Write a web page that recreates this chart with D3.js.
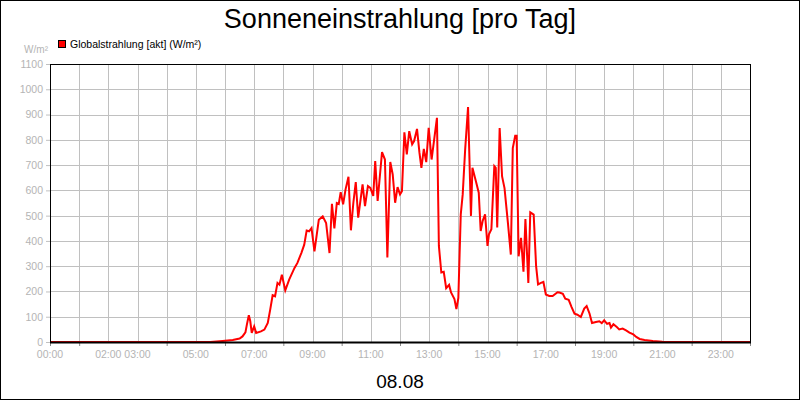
<!DOCTYPE html>
<html>
<head>
<meta charset="utf-8">
<script src="https://cdn.jsdelivr.net/npm/d3@7.9.0/dist/d3.min.js"></script>
<style>
  html, body { margin: 0; padding: 0; background: #fff; }
  svg { display: block; font-family: "Liberation Sans", Arial, sans-serif; }
</style>
</head>
<body>
<svg id="chart" width="800" height="400"></svg>
<script>
// time of day (HH:MM) and global radiation in W/m²
const times = [
  '00:00','05:30','05:55','06:16','06:30','06:36','06:42','06:45','06:49','06:52',
  '06:55','07:00','07:04','07:14','07:21','07:28','07:33','07:38','07:43','07:48',
  '07:52','07:57','08:04','08:12','08:23','08:29','08:37','08:43','08:48','08:53',
  '08:58','09:04','09:13','09:21','09:28','09:35','09:40','09:45','09:50','09:54',
  '09:58','10:03','10:08','10:14','10:19','10:24','10:29','10:34','10:43','10:48',
  '10:54','10:59','11:05','11:09','11:14','11:23','11:29','11:34','11:40','11:45',
  '11:50','11:55','12:00','12:04','12:09','12:14','12:19','12:25','12:29','12:35',
  '12:40','12:44','12:49','12:54','12:59','13:05','13:16','13:20','13:25','13:30',
  '13:35','13:41','13:45','13:52','13:56','14:00','14:05','14:09','14:14','14:20',
  '14:26','14:29','14:36','14:42','14:46','14:50','14:55','15:00','15:03',
  '15:08','15:14','15:17','15:20','15:25','15:30','15:35','15:42','15:48','15:52',
  '15:57','16:00','16:04','16:09','16:14','16:18','16:24','16:28','16:35','16:40',
  '16:44','16:50','16:55','17:00','17:07','17:14','17:24','17:28','17:35','17:40',
  '17:47','17:53','17:59','18:05','18:12','18:19','18:24','18:30','18:35','18:43',
  '18:50','18:55','19:00','19:06','19:11','19:14','19:19','19:26','19:31','19:38',
  '19:45','19:52','20:00','20:06','20:13','20:23','20:40','21:00','21:20','24:00'
];
const radiation = [
  0, 0, 4, 8, 14, 22, 38, 69, 106, 82,
  36, 62, 36, 42, 49, 75, 128, 185, 181, 234,
  227, 266, 204, 247, 293, 313, 352, 385, 441, 438,
  451, 359, 484, 497, 471, 352, 547, 449, 550, 546,
  593, 545, 604, 654, 442, 550, 633, 492, 624, 538,
  617, 610, 578, 716, 558, 751, 722, 334, 712, 663,
  551, 613, 584, 597, 830, 742, 834, 782, 795, 843,
  749, 689, 764, 712, 847, 722, 887, 380, 275, 278,
  213, 226, 196, 170, 130, 174, 505, 584, 760, 930,
  499, 689, 637, 591, 439, 479, 505, 380, 426,
  446, 696, 689, 453, 847, 655, 609, 471, 346, 767,
  816, 816, 339, 412, 278, 487, 234, 513, 504, 300,
  228, 234, 238, 188, 182, 182, 197, 196, 191, 171,
  167, 138, 112, 108, 99, 132, 142, 112, 75, 79,
  82, 75, 86, 72, 75, 57, 70, 59, 50, 53,
  46, 37, 30, 20, 12, 8, 4, 1, 0, 0
];

const yTicks      = d3.range(0, 1101, 100);
const gridHours   = d3.range(1, 24);
const tickHours   = [0, 1, 4, 6, 8, 10, 12, 14, 16, 18, 20, 22, 24];
const labelHours  = [0, 2, 3, 5, 7, 9, 11, 13, 15, 17, 19, 21, 23];
const titleText   = 'Sonneneinstrahlung [pro Tag]';
const dateText    = '08.08';
const unitText    = 'W/m²';
const seriesName  = 'Globalstrahlung [akt] (W/m²)';

const W = 800, H = 400;
const plot = { left: 50, right: 750, top: 64, bottom: 342 };
const GRID = '#c0c0c0';
const LABEL = '#b4b4b4';

const toMin = t => { const [h, m] = t.split(':').map(Number); return h * 60 + m; };
const data = times.map((t, i) => ({ t: toMin(t), v: radiation[i] }));

const svg = d3.select('#chart');

const x = d3.scaleLinear().domain([0, 1440]).range([plot.left, plot.right]);
const y = d3.scaleLinear().domain([0, 1100]).range([plot.bottom, plot.top]);

svg.append('rect')
  .attr('x', 0.5).attr('y', 0.5).attr('width', W - 1).attr('height', H - 1)
  .attr('fill', '#fff').attr('stroke', '#000');

// grid
svg.append('g')
  .selectAll('line')
  .data(yTicks.slice(1, -1))
  .join('line')
    .attr('x1', plot.left).attr('x2', plot.right)
    .attr('y1', d => Math.round(y(d)) + 0.5).attr('y2', d => Math.round(y(d)) + 0.5)
    .attr('stroke', GRID);

svg.append('g')
  .selectAll('line')
  .data(gridHours)
  .join('line')
    .attr('x1', d => Math.round(x(d * 60)) + 0.5).attr('x2', d => Math.round(x(d * 60)) + 0.5)
    .attr('y1', plot.top).attr('y2', plot.bottom)
    .attr('stroke', GRID);

// y axis
const yAxis = svg.append('g')
  .attr('transform', `translate(${plot.left},0)`)
  .call(d3.axisLeft(y).tickValues(yTicks).tickFormat(d3.format('d')).tickSize(4).tickPadding(3));
yAxis.select('.domain').remove();
yAxis.selectAll('.tick line').attr('stroke', GRID);
yAxis.selectAll('.tick text')
  .attr('fill', LABEL)
  .style('font-family', '"Liberation Sans", Arial, sans-serif')
  .style('font-size', '10.5px');

// x axis: tick marks and labels sit on different hours in the original
const xAxis = svg.append('g')
  .attr('transform', `translate(0,${plot.bottom})`)
  .call(d3.axisBottom(x).tickValues(tickHours.map(h => h * 60)).tickSize(4).tickFormat(''));
xAxis.select('.domain').remove();
xAxis.selectAll('.tick line').attr('stroke', '#888');

svg.append('g')
  .selectAll('text')
  .data(labelHours)
  .join('text')
    .attr('x', d => x(d * 60))
    .attr('y', plot.bottom + 16)
    .attr('text-anchor', 'middle')
    .attr('fill', LABEL)
    .style('font-size', '10.5px')
    .text(d => d3.format('02')(d) + ':00');

// series
svg.append('path')
  .datum(data)
  .attr('fill', 'none')
  .attr('stroke', '#ff0000')
  .attr('stroke-width', 2)
  .attr('stroke-linejoin', 'miter')
  .attr('d', d3.line().x(d => x(d.t)).y(d => y(d.v)));

// frame
svg.append('rect')
  .attr('x', plot.left + 0.5).attr('y', plot.top + 0.5)
  .attr('width', plot.right - plot.left).attr('height', plot.bottom - plot.top)
  .attr('fill', 'none').attr('stroke', '#000');
svg.append('line')
  .attr('x1', plot.left).attr('x2', plot.right + 1)
  .attr('y1', plot.bottom + 0.5).attr('y2', plot.bottom + 0.5)
  .attr('stroke', '#000').attr('stroke-width', 2);

// texts
svg.append('text')
  .attr('x', W / 2).attr('y', 28)
  .attr('text-anchor', 'middle')
  .style('font-size', '27px')
  .text(titleText);

svg.append('text')
  .attr('x', W / 2).attr('y', 388)
  .attr('text-anchor', 'middle')
  .style('font-size', '19px')
  .text(dateText);

svg.append('text')
  .attr('x', 48).attr('y', 53)
  .attr('text-anchor', 'end')
  .attr('fill', LABEL)
  .style('font-size', '10px')
  .text(unitText);

const legend = svg.append('g').attr('transform', 'translate(58,40)');
legend.append('rect')
  .attr('x', 0.5).attr('y', 0.5).attr('width', 7).attr('height', 7)
  .attr('fill', '#ff0000').attr('stroke', '#000');
legend.append('text')
  .attr('x', 12).attr('y', 8)
  .style('font-size', '10.5px')
  .text(seriesName);
</script>
</body>
</html>
